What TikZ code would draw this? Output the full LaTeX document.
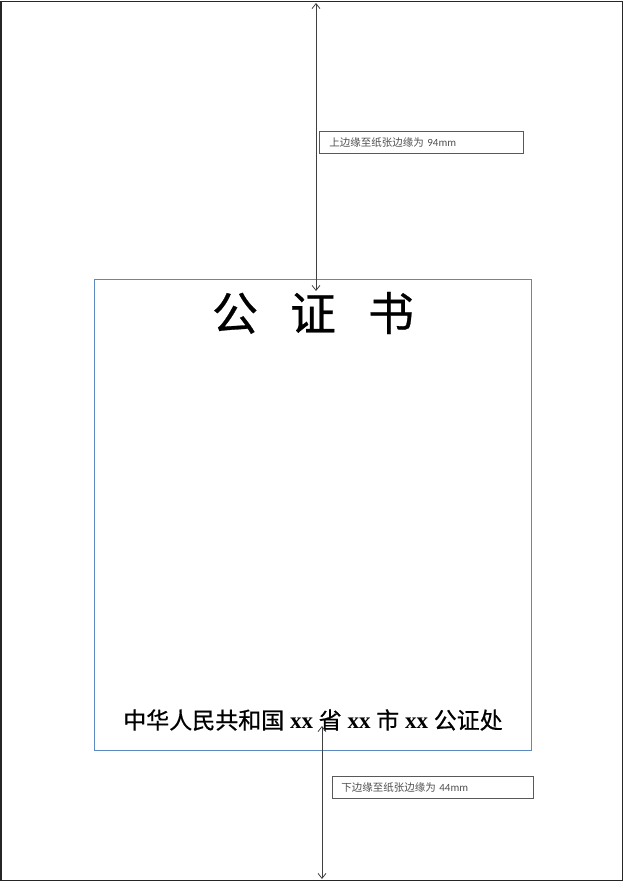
\documentclass[tikz,border=0pt]{standalone}
\usepackage{fontspec}
\setmainfont{Liberation Serif}
\newfontfamily\cjk{Noto Sans CJK SC}
\newfontfamily\cjkb[FakeBold=0.6]{Noto Sans CJK SC}
\newfontfamily\lbl{Carlito}
\usetikzlibrary{arrows.meta}
\definecolor{boxblue}{HTML}{5A8AC0}
\definecolor{arrowgray}{HTML}{404040}
\definecolor{textgray}{HTML}{505050}
\tikzset{
  page/.style={draw=black!85, line width=1.5pt},
  mainbox/.style={draw=boxblue, line width=1pt},
  dimarrow/.style={draw=arrowgray, line width=0.8pt, {Straight Barb[length=5pt,width=8pt]}-{Straight Barb[length=5pt,width=8pt]}},
  notebox/.style={draw=black!65, line width=0.8pt, minimum height=22pt, text=textgray, inner sep=0pt, anchor=north west, text width=#1, align=left, font=\fontsize{10.5pt}{11pt}\selectfont},
}
\begin{document}
\begin{tikzpicture}[x=1pt,y=-1pt]
\useasboundingbox (0,0) rectangle (624,882);
\draw[page] (0.75,1.5) rectangle (622.5,880.5);
\node[mainbox, minimum width=437pt, minimum height=471pt, anchor=north west, inner sep=0pt] (box) at (94,279) {};
% title
\node[font=\cjkb\fontsize{46pt}{50pt}\selectfont] (title) at (313,313) {公\hspace{32pt}证\hspace{32pt}书};
% bottom text
\node[font=\fontsize{23pt}{26pt}\selectfont] (org) at (313,720) {{\cjkb 中华人民共和国} {\bfseries xx} {\cjkb 省} {\bfseries xx} {\cjkb 市} {\bfseries xx} {\cjkb 公证处}};
% notes
\node[notebox=204pt, minimum width=204pt] (note1) at (319,131) {\hspace{10pt}{\cjk 上边缘至纸张边缘为} {\lbl\fontsize{11pt}{12pt}\selectfont 94mm}};
\node[notebox=201pt, minimum width=201pt] (note2) at (332,776) {\hspace{9pt}{\cjk 下边缘至纸张边缘为} {\lbl\fontsize{11pt}{12pt}\selectfont 44mm}};
% arrows
\coordinate (t1) at (316,3);
\coordinate (t2) at (316,291);
\coordinate (b1) at (322,726);
\coordinate (b2) at (322,879);
\draw[dimarrow] (t1) -- (t2);
\draw[dimarrow] (b1) -- (b2);
\end{tikzpicture}
\end{document}
